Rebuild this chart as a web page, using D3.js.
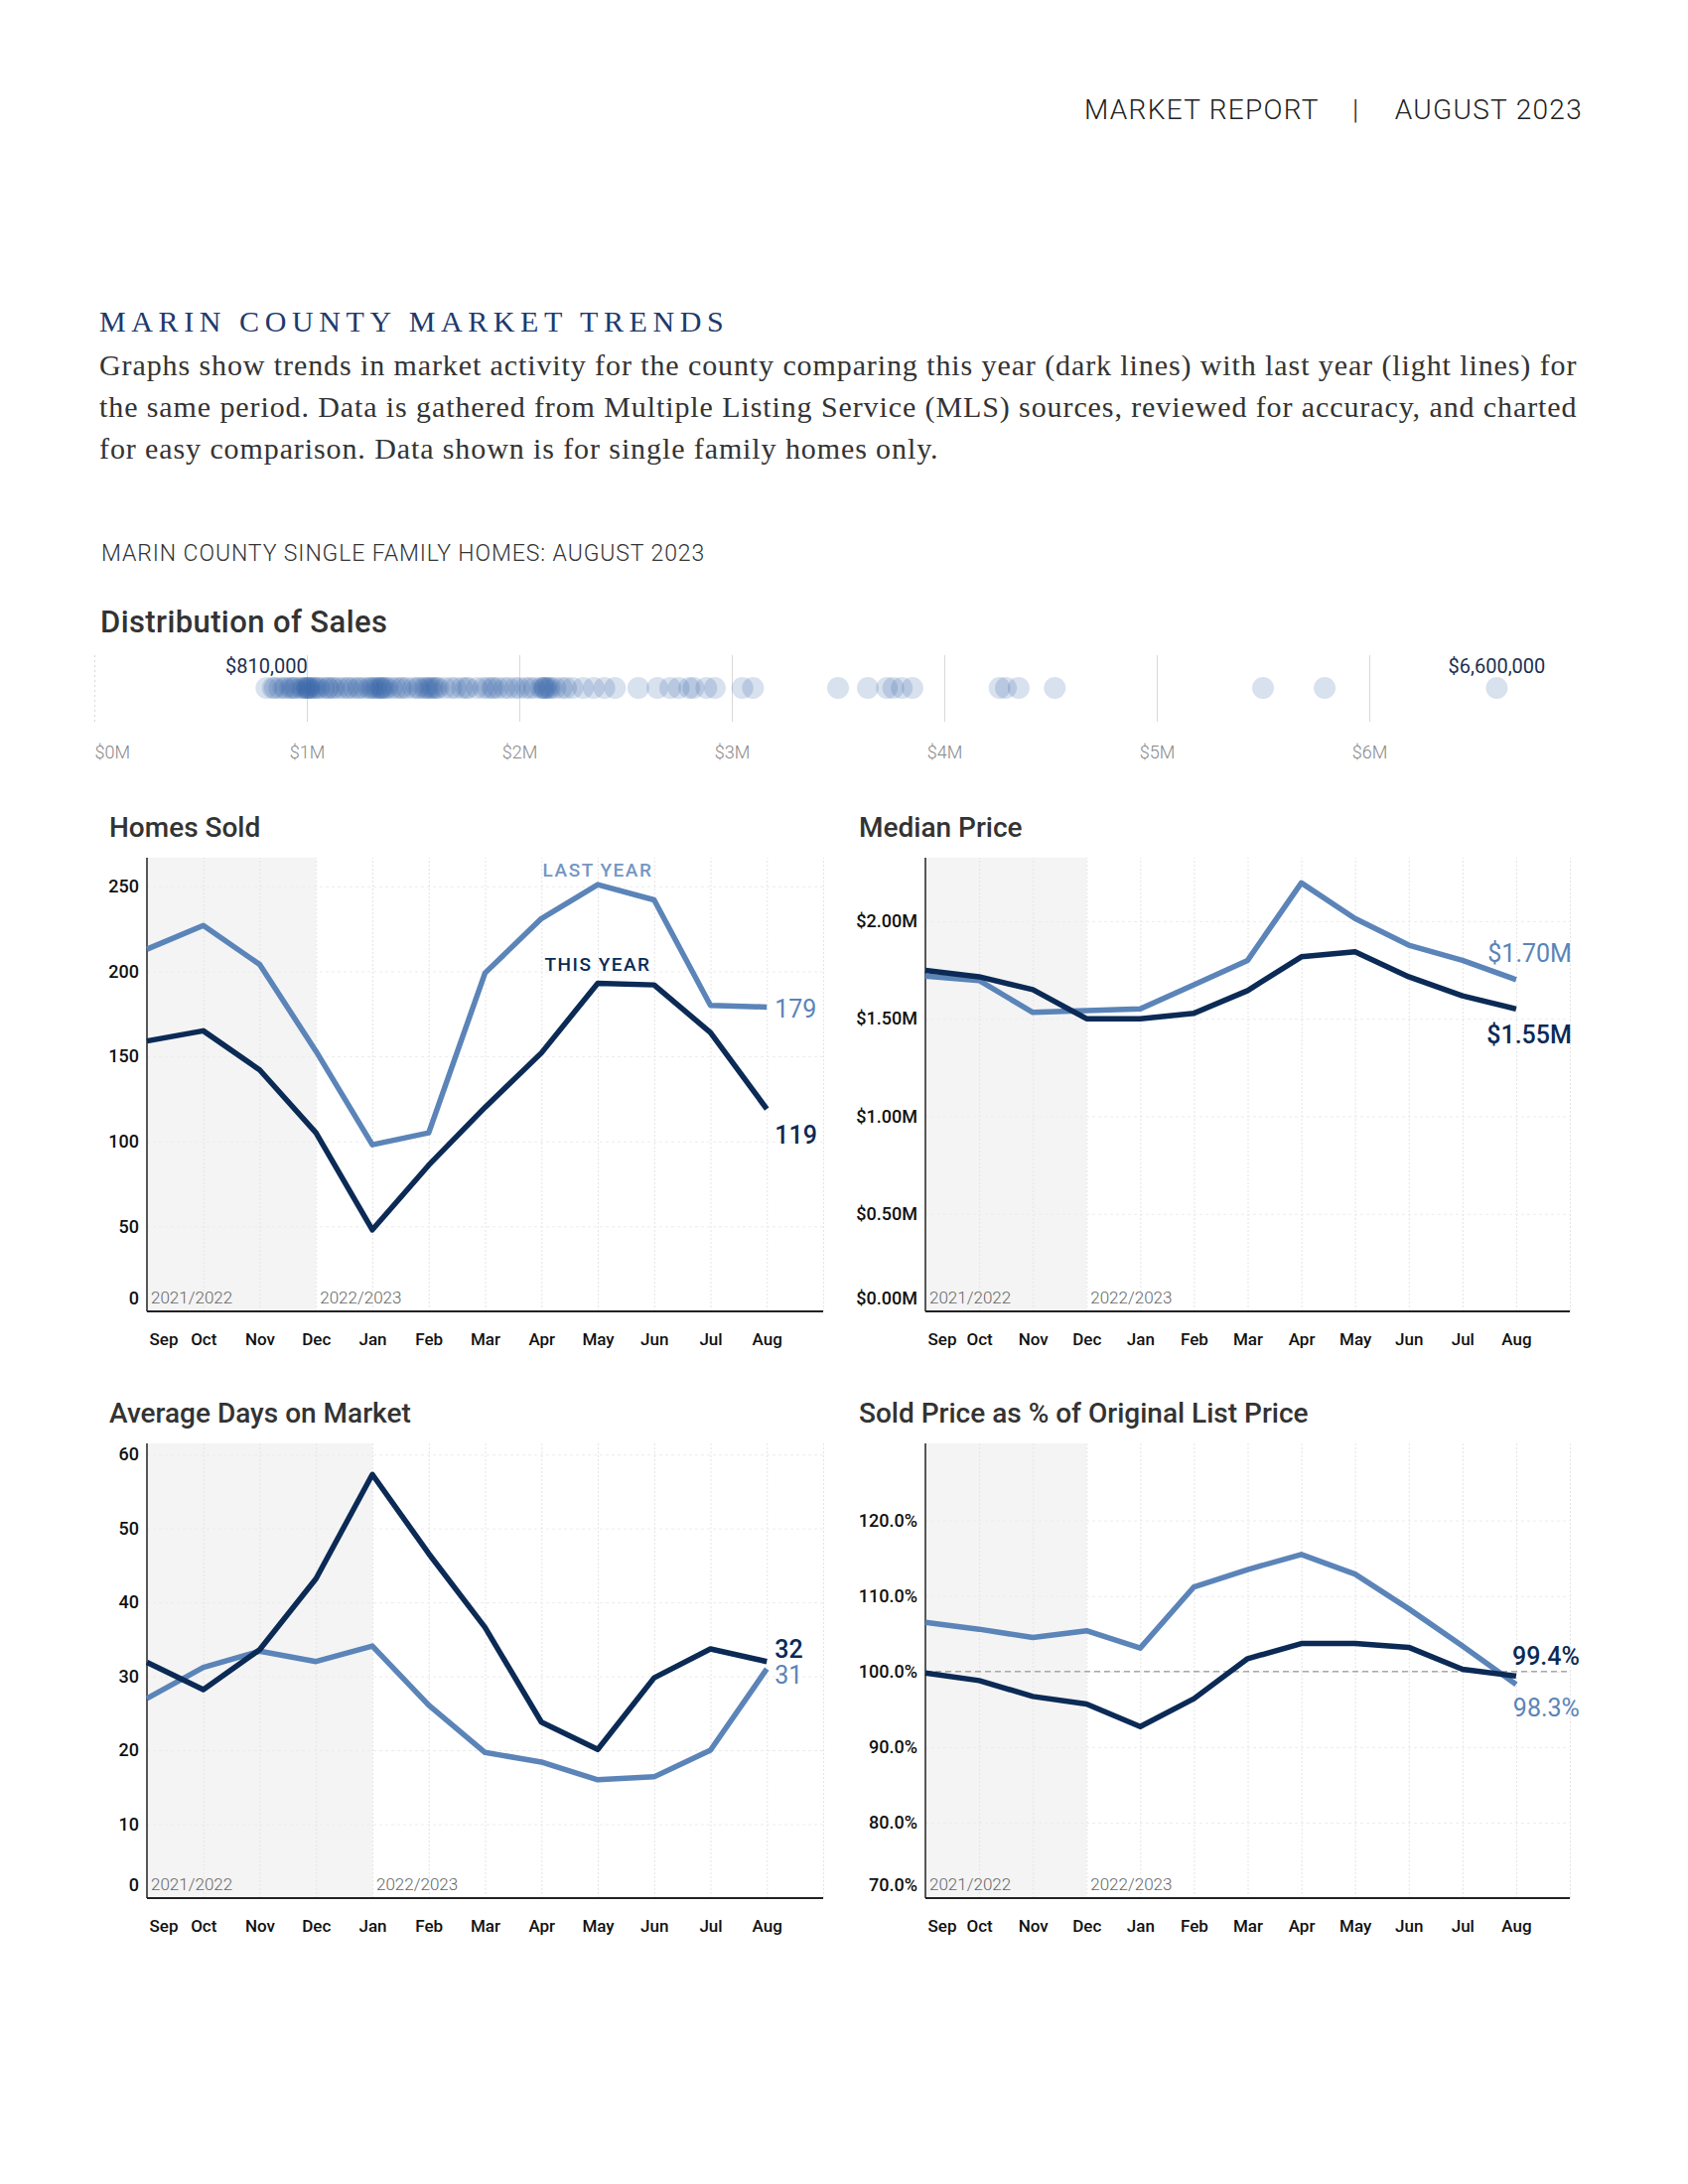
<!DOCTYPE html>
<html>
<head>
<meta charset="utf-8">
<script src="https://cdn.jsdelivr.net/npm/d3@7"></script>
<style>
  body { margin: 0; background: #fff; }
  svg { display: block; }
</style>
</head>
<body>
<script>
// ---- data ----
var months = ["Sep", "Oct", "Nov", "Dec", "Jan", "Feb", "Mar", "Apr", "May", "Jun", "Jul", "Aug"];

var homesThisYear = [159, 165, 142, 105, 48, 86, 120, 152, 193, 192, 164, 119];
var homesLastYear = [213, 227, 204, 153, 98, 105, 199, 231, 251, 242, 180, 179];
var homesTicks = [0, 50, 100, 150, 200, 250];

var medianThisYear = [1.748, 1.715, 1.649, 1.50, 1.50, 1.528, 1.644, 1.817, 1.843, 1.715, 1.617, 1.55];
var medianLastYear = [1.718, 1.696, 1.532, 1.541, 1.550, 1.674, 1.799, 2.196, 2.013, 1.877, 1.799, 1.70];
var medianTicks = [0, 0.5, 1.0, 1.5, 2.0];

var daysThisYear = [31.9, 28.2, 33.6, 43.2, 57.3, 46.6, 36.6, 23.8, 20.1, 29.8, 33.7, 32];
var daysLastYear = [27, 31.2, 33.4, 32, 34.1, 26.1, 19.7, 18.4, 16.0, 16.4, 20, 31];
var daysTicks = [0, 10, 20, 30, 40, 50, 60];

var pctThisYear = [99.8, 98.8, 96.7, 95.7, 92.7, 96.4, 101.7, 103.7, 103.7, 103.2, 100.3, 99.4];
var pctLastYear = [106.5, 105.6, 104.5, 105.4, 103.1, 111.2, 113.5, 115.5, 112.9, 108.3, 103.4, 98.3];
var pctTicks = [70, 80, 90, 100, 110, 120];

// August sale prices, $M
var salePrices = [0.81, 0.84, 0.85, 0.87, 0.89, 0.90, 0.92, 0.93, 0.94, 0.95, 0.97, 0.98, 0.99,
  1.00, 1.00, 1.01, 1.01, 1.02, 1.03, 1.04, 1.05, 1.06, 1.08, 1.10, 1.10, 1.12, 1.13, 1.15,
  1.17, 1.19, 1.20, 1.22, 1.24, 1.25, 1.27, 1.29, 1.30, 1.31, 1.32, 1.33, 1.34, 1.35, 1.35,
  1.36, 1.37, 1.38, 1.40, 1.42, 1.44, 1.45, 1.47, 1.50, 1.52, 1.53, 1.55, 1.56, 1.57, 1.58,
  1.59, 1.60, 1.61, 1.62, 1.65, 1.68, 1.70, 1.73, 1.75, 1.76, 1.80, 1.83, 1.85, 1.87, 1.88,
  1.90, 1.93, 1.95, 1.98, 2.00, 2.03, 2.05, 2.07, 2.10, 2.11, 2.12, 2.12, 2.13, 2.14, 2.15,
  2.17, 2.20, 2.22, 2.25, 2.30, 2.35, 2.40, 2.45, 2.56, 2.65, 2.71, 2.75, 2.80, 2.82, 2.88,
  2.92, 3.05, 3.10, 3.50, 3.64, 3.73, 3.76, 3.80, 3.85, 4.26, 4.29, 4.35, 4.52, 5.50, 5.79, 6.60];
var distTicks = [0, 1, 2, 3, 4, 5, 6];

var darkColor = "#0b2a55", lightColor = "#5b84b8";
var sansFont = "Roboto, 'Open Sans', sans-serif";
var serifFont = "'Liberation Serif', 'DejaVu Serif', serif";

var w = 1700, h = 2200;
var svg = d3.select("body").append("svg").attr("width", w).attr("height", h);

// ---- header text ----
svg.append("text").attr("x", 1092).attr("y", 120).text("MARKET REPORT")
    .style("font", "300 28px " + sansFont).attr("letter-spacing", 1.3).attr("fill", "#222");
svg.append("text").attr("x", 1365).attr("y", 120).text("|").attr("text-anchor", "middle")
    .style("font", "300 28px " + sansFont).attr("fill", "#222");
svg.append("text").attr("x", 1594).attr("y", 120).text("AUGUST 2023").attr("text-anchor", "end")
    .style("font", "300 28px " + sansFont).attr("letter-spacing", 1.3).attr("fill", "#222");

svg.append("text").attr("x", 100).attr("y", 334).text("MARIN COUNTY MARKET TRENDS")
    .style("font", "400 30px " + serifFont).attr("letter-spacing", 5.6).attr("fill", "#1e3a6b");

var bodyLines = [
    "Graphs show trends in market activity for the county comparing this year (dark lines) with last year (light lines) for",
    "the same period. Data is gathered from Multiple Listing Service (MLS) sources, reviewed for accuracy, and charted",
    "for easy comparison. Data shown is for single family homes only."
];
svg.selectAll(".body").data(bodyLines).enter().append("text")
    .attr("x", 100).attr("y", (d, i) => 378 + i * 42).text(d => d)
    .style("font", "400 30px " + serifFont).attr("letter-spacing", 0.9).attr("fill", "#333");

svg.append("text").attr("x", 102).attr("y", 565).text("MARIN COUNTY SINGLE FAMILY HOMES: AUGUST 2023")
    .style("font", "300 23px " + sansFont).attr("letter-spacing", 0.9).attr("fill", "#333");

// ---- distribution of sales ----
svg.append("text").attr("x", 101).attr("y", 637).text("Distribution of Sales")
    .style("font", "500 31px " + sansFont).attr("letter-spacing", 0.4).attr("fill", "#333");

var xd = d3.scaleLinear().domain([0, 7]).range([95, 95 + 7 * 214]);
var dist = svg.append("g");
var distAxis = dist.append("g").attr("transform", "translate(0,727)")
    .call(d3.axisBottom(xd).tickValues(distTicks).tickSize(-67).tickFormat(d => "$" + d + "M"));
distAxis.select(".domain").remove();
distAxis.selectAll(".tick line").attr("stroke", "#d8d8d8")
    .attr("stroke-dasharray", d => d === 0 ? "2,3" : null);
distAxis.selectAll(".tick text").attr("y", 24)
    .style("font", "300 18px " + sansFont).attr("fill", "#888")
    .attr("text-anchor", d => d === 0 ? "start" : "middle");

dist.selectAll("circle").data(salePrices).enter().append("circle")
    .attr("cx", d => xd(d)).attr("cy", 693).attr("r", 11)
    .attr("fill", "#2f5fa6").attr("fill-opacity", 0.19);

dist.append("text").attr("x", xd(d3.min(salePrices))).attr("y", 678).attr("text-anchor", "middle")
    .text("$" + d3.format(",")(d3.min(salePrices) * 1e6))
    .style("font", "400 20px " + sansFont).attr("fill", "#1c2f52");
dist.append("text").attr("x", xd(d3.max(salePrices))).attr("y", 678).attr("text-anchor", "middle")
    .text("$" + d3.format(",")(Math.round(d3.max(salePrices) * 1e6)))
    .style("font", "400 20px " + sansFont).attr("fill", "#1c2f52");

// ---- line charts ----
function drawChart(c) {
    var g = svg.append("g");
    var x = d3.scaleLinear().domain([0, months.length]).range([c.left, c.right]);
    var y = d3.scaleLinear().domain(c.domain).range([c.bottom, c.top]);

    g.append("text").attr("x", c.left - 38 + c.titleDx).attr("y", c.top - 21).text(c.title)
        .style("font", "500 28px " + sansFont).attr("fill", "#333");

    // shaded previous season
    g.append("rect").attr("x", x(0)).attr("y", c.top)
        .attr("width", x(c.shadeTo) - x(0)).attr("height", c.bottom - c.top)
        .attr("fill", "#f4f4f4");

    // vertical grid
    var vg = g.append("g").attr("transform", "translate(0," + c.bottom + ")")
        .call(d3.axisBottom(x).tickValues(d3.range(1, months.length + 1)).tickSize(-(c.bottom - c.top)).tickFormat(""));
    vg.select(".domain").remove();
    vg.selectAll(".tick line").attr("stroke", "#e4e4e4").attr("stroke-dasharray", "2,2");

    // horizontal grid
    var hg = g.append("g").attr("transform", "translate(" + c.left + ",0)")
        .call(d3.axisLeft(y).tickValues(c.ticks.slice(1)).tickSize(-(c.right - c.left)).tickFormat(""));
    hg.select(".domain").remove();
    hg.selectAll(".tick line").attr("stroke", "#ececec").attr("stroke-dasharray", "3,3");

    if (c.refLine != null) {
        g.append("line").attr("x1", c.left).attr("x2", c.right)
            .attr("y1", y(c.refLine)).attr("y2", y(c.refLine))
            .attr("stroke", "#a8a8a8").attr("stroke-width", 1.5).attr("stroke-dasharray", "6,4");
    }

    // period labels
    g.append("text").attr("x", x(0) + 4).attr("y", c.bottom - 8).text("2021/2022")
        .style("font", "300 17px " + sansFont).attr("fill", "#666");
    g.append("text").attr("x", x(c.shadeTo) + 4).attr("y", c.bottom - 8).text("2022/2023")
        .style("font", "300 17px " + sansFont).attr("fill", "#666");

    // y axis labels
    var ya = g.append("g").attr("transform", "translate(" + (c.left - 8) + ",0)")
        .call(d3.axisLeft(y).tickValues(c.ticks).tickSize(0).tickFormat(c.fmt));
    ya.select(".domain").remove();
    ya.selectAll(".tick text").attr("x", 0)
        .style("font", "500 18px " + sansFont).attr("fill", "#111")
        .attr("dy", d => d === c.ticks[0] ? "-0.4em" : "0.32em");

    // x axis labels
    var xa = g.append("g").attr("transform", "translate(0," + c.bottom + ")")
        .call(d3.axisBottom(x).tickValues(d3.range(months.length)).tickSize(0).tickFormat(i => months[i]));
    xa.select(".domain").remove();
    xa.selectAll(".tick text").attr("y", 22)
        .style("font", "500 17px " + sansFont).attr("fill", "#111")
        .attr("text-anchor", i => i === 0 ? "start" : "middle")
        .attr("dx", i => i === 0 ? 2 : 0);

    // axis lines
    g.append("line").attr("x1", c.left).attr("x2", c.left).attr("y1", c.top).attr("y2", c.bottom)
        .attr("stroke", "#222").attr("stroke-width", 1.5);
    g.append("line").attr("x1", c.left).attr("x2", c.right).attr("y1", c.bottom).attr("y2", c.bottom)
        .attr("stroke", "#222").attr("stroke-width", 2);

    var line = d3.line().x((d, i) => x(i)).y(d => y(d));
    g.append("path").datum(c.last).attr("d", line).attr("fill", "none")
        .attr("stroke", lightColor).attr("stroke-width", 5.5).attr("stroke-linejoin", "round");
    g.append("path").datum(c.cur).attr("d", line).attr("fill", "none")
        .attr("stroke", darkColor).attr("stroke-width", 5.5).attr("stroke-linejoin", "round");

    var n = months.length - 1;
    g.append("text").attr("x", x(n) + c.endDx).attr("y", y(c.last[n]) + c.lastDy)
        .attr("text-anchor", c.endAnchor).attr("dy", "0.35em").text(c.endFmt(c.last[n]))
        .style("font", "400 25px " + sansFont).attr("fill", lightColor);
    g.append("text").attr("x", x(n) + c.endDx).attr("y", y(c.cur[n]) + c.curDy)
        .attr("text-anchor", c.endAnchor).attr("dy", "0.35em").text(c.endFmt(c.cur[n]))
        .style("font", "500 25px " + sansFont).attr("fill", darkColor);

    if (c.legend) {
        g.append("text").attr("x", x(8)).attr("y", y(c.last[8]) - 8).attr("text-anchor", "middle")
            .text("LAST YEAR").attr("letter-spacing", 1.5)
            .style("font", "500 19px " + sansFont).attr("fill", "#7496c3");
        g.append("text").attr("x", x(8)).attr("y", y(c.cur[8]) - 12).attr("text-anchor", "middle")
            .text("THIS YEAR").attr("letter-spacing", 1.5)
            .style("font", "500 19px " + sansFont).attr("fill", darkColor);
    }
}

drawChart({
    title: "Homes Sold", titleDx: 0, left: 148, right: 829, top: 864, bottom: 1321,
    domain: [0, 266.8], ticks: homesTicks, fmt: d => d, shadeTo: 3,
    cur: homesThisYear, last: homesLastYear, endFmt: d => d,
    endAnchor: "start", endDx: 8, lastDy: 2, curDy: 26, legend: true
});
drawChart({
    title: "Median Price", titleDx: -29, left: 932, right: 1581, top: 864, bottom: 1321,
    domain: [0, 2.325], ticks: medianTicks, fmt: d => "$" + d3.format(".2f")(d) + "M", shadeTo: 3,
    cur: medianThisYear, last: medianLastYear, endFmt: d => "$" + d3.format(".2f")(d) + "M",
    endAnchor: "end", endDx: 56, lastDy: -27, curDy: 26
});
drawChart({
    title: "Average Days on Market", titleDx: 0, left: 148, right: 829, top: 1454, bottom: 1912,
    domain: [0, 61.5], ticks: daysTicks, fmt: d => d, shadeTo: 4,
    cur: daysThisYear, last: daysLastYear, endFmt: d => Math.round(d),
    endAnchor: "start", endDx: 8, lastDy: 6, curDy: -12
});
drawChart({
    title: "Sold Price as % of Original List Price", titleDx: -29, left: 932, right: 1581, top: 1454, bottom: 1912,
    domain: [70, 130.2], ticks: pctTicks, fmt: d => d3.format(".1f")(d) + "%", shadeTo: 3,
    cur: pctThisYear, last: pctLastYear, endFmt: d => d3.format(".1f")(d) + "%",
    endAnchor: "end", endDx: 64, lastDy: 24, curDy: -20, refLine: 100
});
</script>
</body>
</html>
